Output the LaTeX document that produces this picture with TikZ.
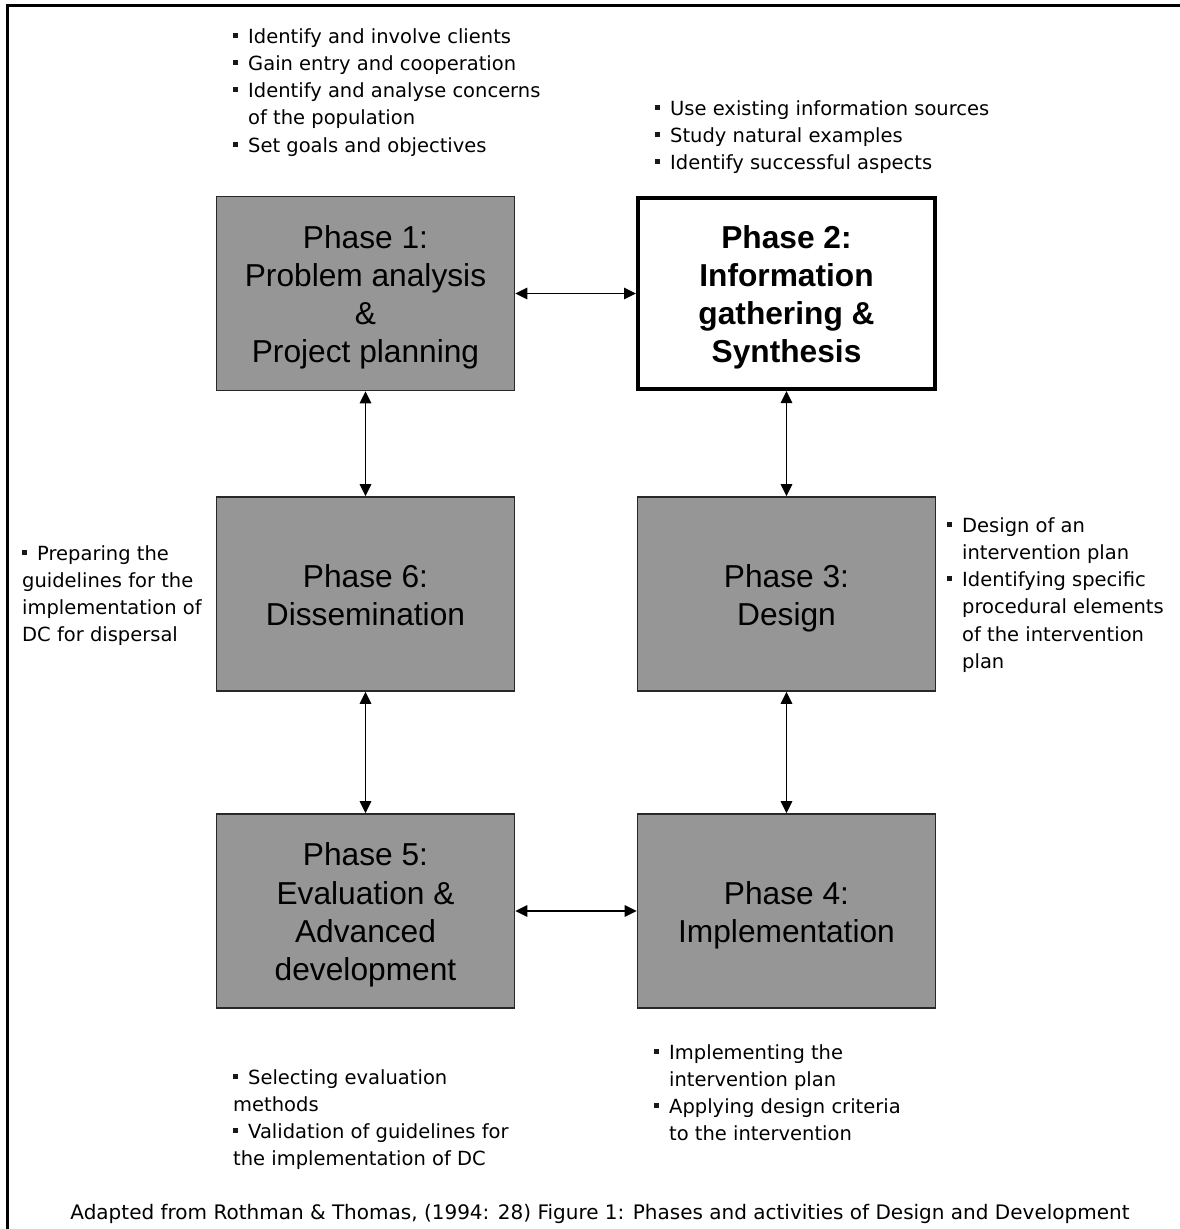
\documentclass[tikz,border=0pt]{standalone}
\usepackage{fontspec}
\setmainfont{Liberation Sans}
\newfontfamily\notefont{DejaVu Sans}
\usetikzlibrary{arrows.meta}
\definecolor{boxgray}{RGB}{150,150,150}
\definecolor{boxedge}{RGB}{40,40,40}
\definecolor{inkgray}{RGB}{25,25,25}
\newcommand\sqb{\raisebox{5.5pt}{\color{inkgray}\rule{5pt}{5pt}}}
\newcommand\bul{\llap{\sqb\hspace{10pt}}}
\newcommand\bulin{\sqb\hspace{10pt}}
\newcommand\ptext[1]{\raisebox{-4.5pt}[\height][\depth]{\begin{tabular}{@{}c@{}}#1\end{tabular}}}
\begin{document}
\begin{tikzpicture}[x=1pt,y=-1pt,
  phase/.style={draw=boxedge, line width=1.8pt, fill=boxgray,
    minimum width=298pt, minimum height=194pt, inner sep=0pt,
    font=\fontsize{31.7}{38.2}\selectfont},
  phasekey/.style={phase, draw=black, fill=white, line width=4pt,
    minimum width=297pt, minimum height=191pt,
    font=\fontsize{31.7}{38.2}\selectfont\bfseries},
  note/.style={inner sep=0pt, anchor=north west, align=left,
    font=\notefont\fontsize{19.5}{27.3}\selectfont},
  arr/.style={{Triangle[length=12pt,width=11.5pt]}-{Triangle[length=12pt,width=11.5pt]}, line width=1.7pt, black}
]
\useasboundingbox (0,0) rectangle (1180,1229);
\fill[white] (0,0) rectangle (1180,1229);
% frame
\draw[line width=3pt] (7,1229) -- (7,5.5) -- (1180,5.5);

% phases
\node[phase]    (p1) at (365.5,293.5) {\ptext{Phase 1:\\Problem analysis\\\&\\Project planning}};
\node[phasekey] (p2) at (786.5,293.5) {\ptext{Phase 2:\\Information\\gathering \&\\Synthesis}};
\node[phase]    (p6) at (365.5,594)   {\ptext{Phase 6:\\Dissemination}};
\node[phase]    (p3) at (786.5,594)   {\ptext{Phase 3:\\Design}};
\node[phase]    (p5) at (365.5,911)   {\ptext{Phase 5:\\Evaluation \&\\Advanced\\development}};
\node[phase]    (p4) at (786.5,911)   {\ptext{Phase 4:\\Implementation}};

% connectors
\draw[arr] (p1) -- (p2);
\draw[arr] (p1) -- (p6);
\draw[arr] (p2) -- (p3);
\draw[arr] (p6) -- (p5);
\draw[arr] (p3) -- (p4);
\draw[arr] (p5) -- (p4);

% notes
\node[note] (n1) at (248,28) {\bul Identify and involve clients\\\bul Gain entry and cooperation\\\bul Identify and analyse concerns\\of the population\\\bul Set goals and objectives};
\node[note] (n2) at (670,100) {\bul Use existing information sources\\\bul Study natural examples\\\bul Identify successful aspects};
\node[note] (n6) at (22,545) {\bulin Preparing the\\guidelines for the\\implementation of\\DC for dispersal};
\node[note] (n3) at (962,517) {\bul Design of an\\intervention plan\\\bul Identifying specific\\procedural elements\\of the intervention\\plan};
\node[note] (n4) at (669,1044) {\bul Implementing the\\intervention plan\\\bul Applying design criteria\\to the intervention};
\node[note] (n5) at (233,1069) {\bulin Selecting evaluation\\methods\\\bulin Validation of guidelines for\\the implementation of DC};
\node[note, anchor=base, font=\notefont\fontsize{20}{27}\selectfont] (cap) at (600,1219) {Adapted from Rothman \& Thomas, (1994: 28) Figure 1: Phases and activities of Design and Development};
\end{tikzpicture}
\end{document}
